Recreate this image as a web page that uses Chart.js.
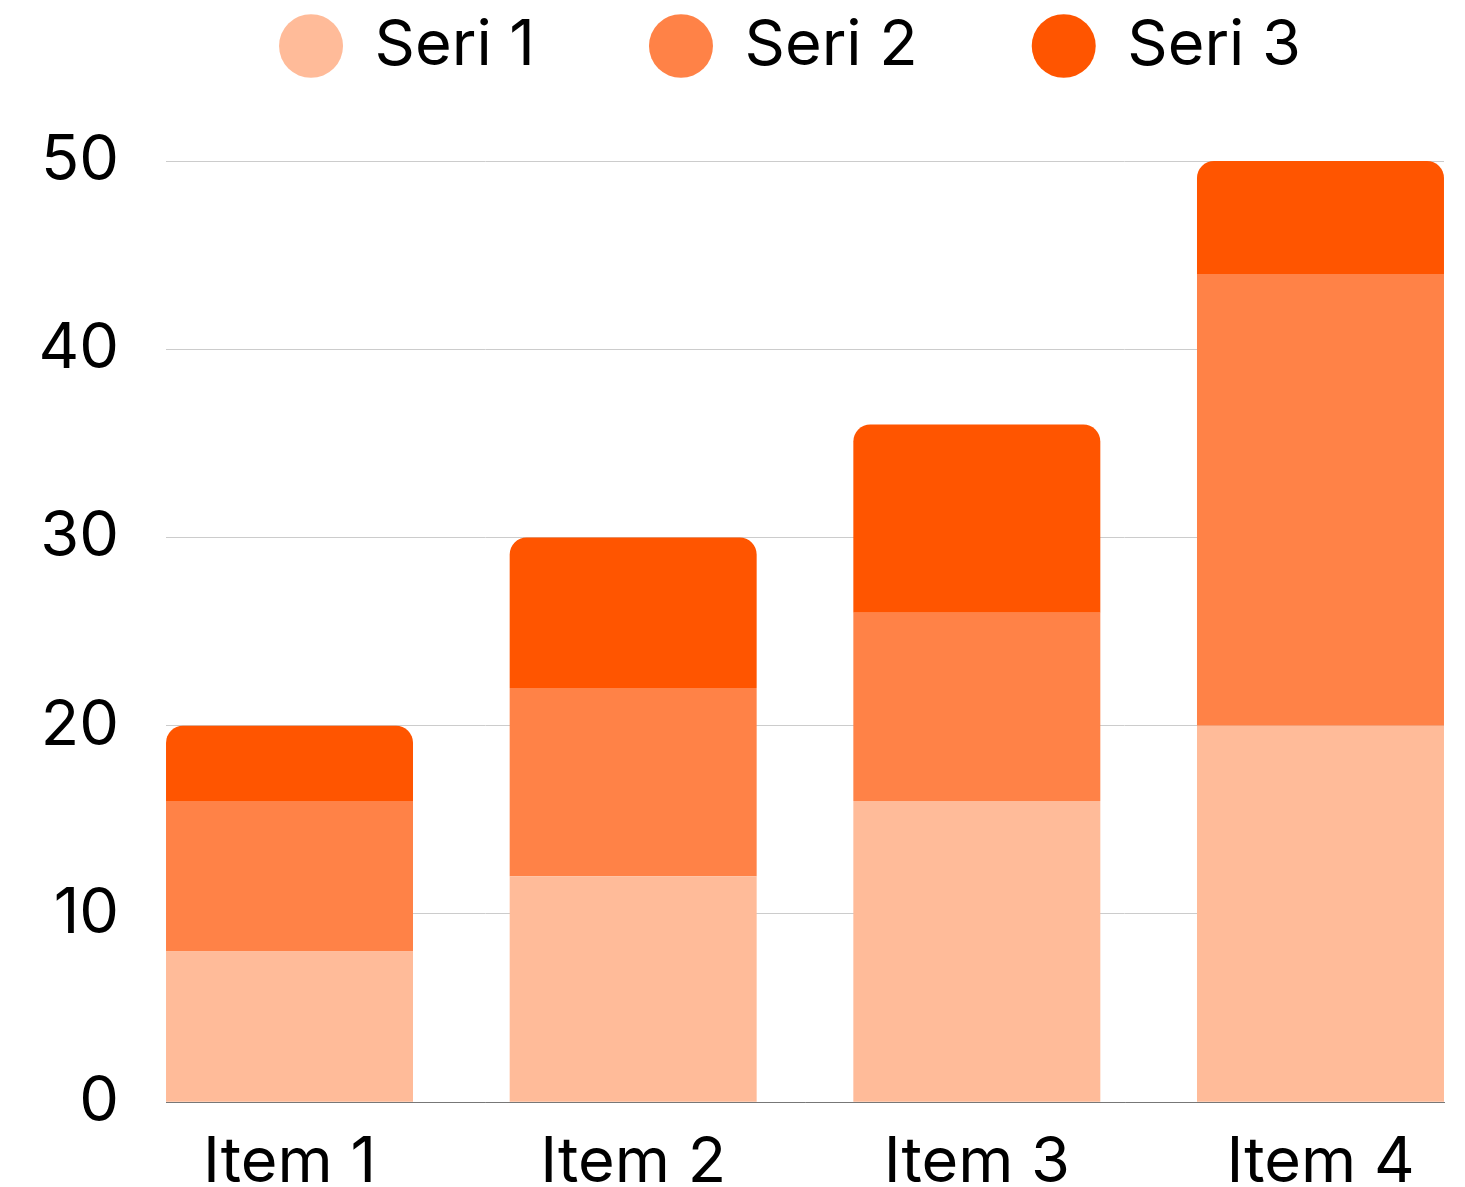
<!DOCTYPE html>
<html>
<head>
<meta charset="utf-8">
<script src="https://cdn.jsdelivr.net/npm/chart.js@4"></script>
<style>
  html, body { margin: 0; padding: 0; background: #fff; }
  #wrap { width: 1465px; height: 1187px; position: relative; }
</style>
</head>
<body>
<div id="wrap"><canvas id="myChart"></canvas></div>
<script>
// Chart data
const categories = ['Item 1', 'Item 2', 'Item 3', 'Item 4'];
const seriesNames = ['Seri 1', 'Seri 2', 'Seri 3'];
const seri1 = [8, 12, 16, 20];
const seri2 = [8, 10, 10, 24];
const seri3 = [4, 8, 10, 6];
const yTicks = [0, 10, 20, 30, 40, 50];

const colors = ['#FFBB99', '#FF8247', '#FF5500'];
const fontFamily = 'Inter, "Open Sans", sans-serif';

// turn a value list into {x, y} points on the index axis
function toPoints(values) {
    return values.map((v, i) => ({ x: i, y: v }));
}

// Legend: wide horizontal gaps, but keep it on the top strip
const legendPlacement = {
    id: 'legendPlacement',
    beforeLayout(chart) {
        const legend = chart.legend;
        if (!legend || legend._patched) return;
        const fit = legend.fit;
        legend.fit = function () {
            fit.call(this);
            this.height = 161;
        };
        legend._patched = true;
    },
    afterLayout(chart) {
        const legend = chart.legend;
        const pad = legend.options.labels.padding;
        const half = legend.options.labels.font.size / 2;
        legend.top = 46 - pad - half;
        legend.left += 68;
        legend.right += 68;
    }
};

const ctx = document.getElementById('myChart').getContext('2d');
new Chart(ctx, {
    type: 'bar',
    data: {
        datasets: [
            { label: seriesNames[0], data: toPoints(seri1), backgroundColor: colors[0] },
            { label: seriesNames[1], data: toPoints(seri2), backgroundColor: colors[1] },
            {
                label: seriesNames[2], data: toPoints(seri3), backgroundColor: colors[2],
                borderRadius: { topLeft: 17, topRight: 17 }, borderSkipped: 'bottom'
            }
        ]
    },
    options: {
        responsive: true,
        maintainAspectRatio: false,
        animation: false,
        layout: { padding: { left: 0, right: 21, top: 0, bottom: 0 } },
        datasets: {
            bar: { categoryPercentage: 1, barPercentage: 0.7187 }
        },
        scales: {
            x: {
                type: 'linear',
                stacked: true,
                offset: false,
                min: -0.3594,
                max: 3.3594,
                grid: { display: false, drawTicks: false, offset: false },
                border: { display: true, color: '#777', width: 1 },
                afterBuildTicks: (axis) => {
                    axis.ticks = categories.map((_, i) => ({ value: i }));
                },
                afterFit: (axis) => { axis.height = 84; },
                ticks: {
                    autoSkip: false,
                    maxRotation: 0,
                    padding: 23,
                    color: '#000',
                    font: { family: fontFamily, size: 63 },
                    callback: (value) => categories[value]
                }
            },
            y: {
                stacked: true,
                min: 0,
                max: 50,
                grid: { color: '#cccccc', lineWidth: 1, drawTicks: false },
                border: { display: false },
                afterBuildTicks: (axis) => {
                    axis.ticks = yTicks.map(v => ({ value: v }));
                },
                afterFit: (axis) => { axis.width = 166; },
                ticks: {
                    padding: 47,
                    color: '#000',
                    font: { family: fontFamily, size: 63 }
                }
            }
        },
        plugins: {
            legend: {
                position: 'top',
                labels: {
                    usePointStyle: true,
                    pointStyle: 'circle',
                    boxWidth: 45,
                    boxHeight: 45,
                    pointStyleWidth: 64,
                    padding: 114,
                    color: '#000',
                    font: { family: fontFamily, size: 63 }
                }
            },
            tooltip: { enabled: false }
        }
    },
    plugins: [legendPlacement]
});
</script>
</body>
</html>
